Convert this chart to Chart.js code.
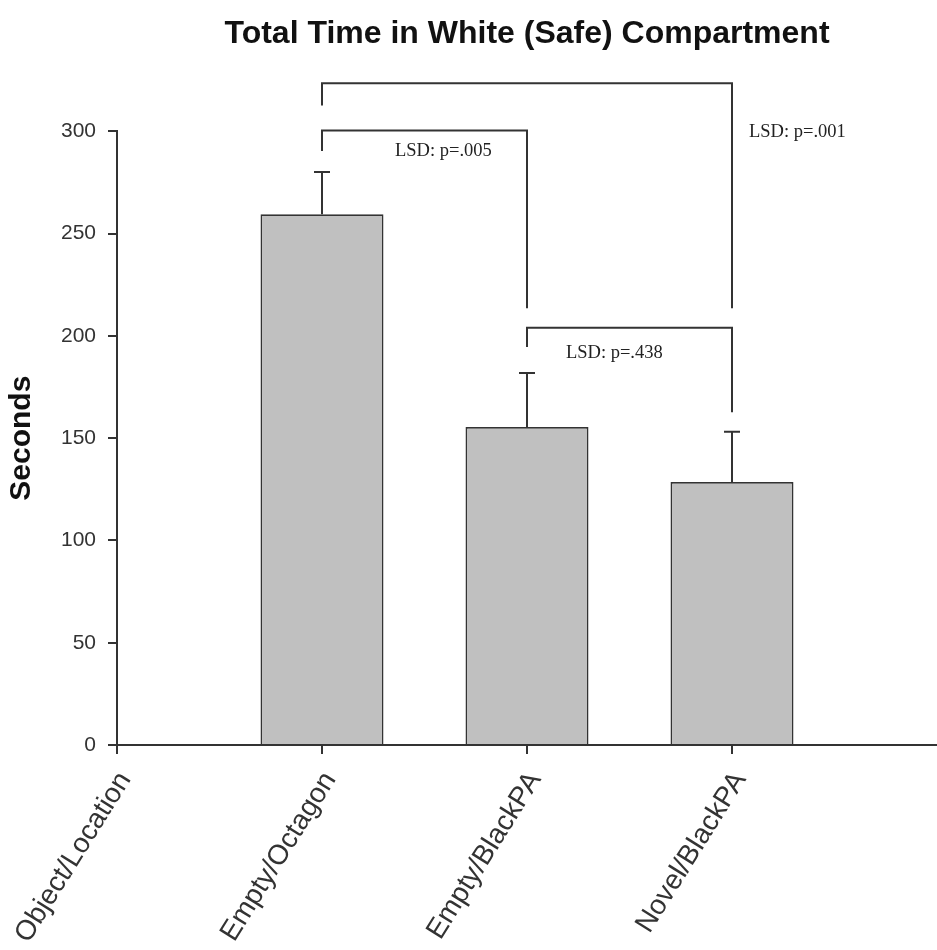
<!DOCTYPE html>
<html><head><meta charset="utf-8">
<script src="https://cdn.jsdelivr.net/npm/chart.js@4.4.1/dist/chart.umd.min.js"></script>
<style>html,body{margin:0;padding:0;background:#fff}#wrap{width:937px;height:950px}</style>
</head><body><div id="wrap"><canvas id="c" width="937" height="950"></canvas></div>
<script>
// ---- data ----
const categories = ['Object/Location', 'Empty/Octagon', 'Empty/BlackPA', 'Novel/BlackPA', ''];
const meanSeconds = [null, 259.5, 155.5, 128.6, null];
const semSeconds = [null, 20.6, 26.4, 24.5, null];
const yTickValues = [0, 50, 100, 150, 200, 250, 300];
// comparisons: category index pair, bracket top level and leg ends (in seconds), label
const compFrom = [1, 1, 2];
const compTo = [2, 3, 3];
const compTop = [300.5, 323.6, 204.0];
const compLeftEnd = [290.4, 312.7, 194.6];
const compRightEnd = [213.5, 213.5, 162.7];
const compLabels = ['LSD: p=.005', 'LSD: p=.001', 'LSD: p=.438'];

// ---- label placement (layout only) ----
const labelPlace = [
  {x: 1.356, v: 290.4},
  {x: 3.083, v: 299.7},
  {x: 2.190, v: 191.5}
];

const lineColor = '#333333';

const annotPlugin = {
  id: 'annot',
  afterDatasetsDraw(chart) {
    const ctx = chart.ctx;
    const xs = chart.scales.x, ys = chart.scales.y;
    ctx.save();
    ctx.strokeStyle = lineColor;
    ctx.lineWidth = 2;
    // error bars (upper only)
    meanSeconds.forEach((m, i) => {
      if (m == null) return;
      const x = xs.getPixelForValue(i);
      const y0 = ys.getPixelForValue(m);
      const y1 = ys.getPixelForValue(m + semSeconds[i]);
      ctx.beginPath();
      ctx.moveTo(x, y0); ctx.lineTo(x, y1);
      ctx.moveTo(x - 8, y1); ctx.lineTo(x + 8, y1);
      ctx.stroke();
    });
    // brackets
    for (let k = 0; k < compFrom.length; k++) {
      const xa = xs.getPixelForValue(compFrom[k]);
      const xb = xs.getPixelForValue(compTo[k]);
      const yt = ys.getPixelForValue(compTop[k]);
      const yl = ys.getPixelForValue(compLeftEnd[k]);
      const yr = ys.getPixelForValue(compRightEnd[k]);
      ctx.beginPath();
      ctx.moveTo(xa, yl); ctx.lineTo(xa, yt); ctx.lineTo(xb, yt); ctx.lineTo(xb, yr);
      ctx.stroke();
      const lp = labelPlace[k];
      const lx = xs.left + (xs.right - xs.left) * lp.x / (categories.length - 1);
      ctx.fillStyle = '#222';
      ctx.font = '18.5px "Liberation Serif", "DejaVu Serif", serif';
      ctx.textAlign = 'left';
      ctx.textBaseline = 'middle';
      ctx.fillText(compLabels[k], lx, ys.getPixelForValue(lp.v));
    }
    ctx.restore();
  }
};

new Chart(document.getElementById('c'), {
  type: 'bar',
  data: {
    labels: categories,
    datasets: [{
      data: meanSeconds,
      backgroundColor: '#c0c0c0',
      borderColor: lineColor,
      borderWidth: 1.8,
      barPercentage: 0.6,
      categoryPercentage: 1
    }]
  },
  options: {
    responsive: false,
    animation: false,
    devicePixelRatio: 1,
    layout: {padding: {left: 0, right: 0, top: 0, bottom: 0}},
    plugins: {
      legend: {display: false},
      tooltip: {enabled: false},
      title: {
        display: true,
        fullSize: false,
        text: 'Total Time in White (Safe) Compartment',
        color: '#111',
        font: {family: '"Liberation Sans", Arial, sans-serif', size: 32, weight: 'bold'},
        padding: {top: 15, bottom: 78}
      }
    },
    scales: {
      x: {
        type: 'category',
        offset: false,
        afterFit(s) { s.height = 205; s.paddingRight = 0; s.paddingLeft = 0; },
        grid: {
          display: true, offset: false, drawOnChartArea: false, drawTicks: true, tickLength: 9,
          color: (c) => (c.index === categories.length - 1 ? 'rgba(0,0,0,0)' : lineColor),
          lineWidth: 2
        },
        border: {display: true, color: lineColor, width: 2},
        ticks: {
          autoSkip: false, minRotation: 58, maxRotation: 58, padding: 12, labelOffset: 8,
          color: '#333',
          font: {family: '"Liberation Sans", Arial, sans-serif', size: 28}
        }
      },
      y: {
        min: 0, max: 300,
        afterFit(s) { s.width = 117; },
        afterBuildTicks(s) { s.ticks = yTickValues.map(v => ({value: v})); },
        grid: {display: true, drawOnChartArea: false, drawTicks: true, tickLength: 9, color: lineColor, lineWidth: 2},
        border: {display: true, color: lineColor, width: 2},
        ticks: {
          padding: 12, color: '#333',
          font: {family: '"Liberation Sans", Arial, sans-serif', size: 21}
        },
        title: {
          display: true, text: 'Seconds', color: '#111',
          font: {family: '"Liberation Sans", Arial, sans-serif', size: 30, weight: 'bold'},
          padding: {top: 4, bottom: 0}
        }
      }
    }
  },
  plugins: [annotPlugin]
});
</script>
</body></html>
